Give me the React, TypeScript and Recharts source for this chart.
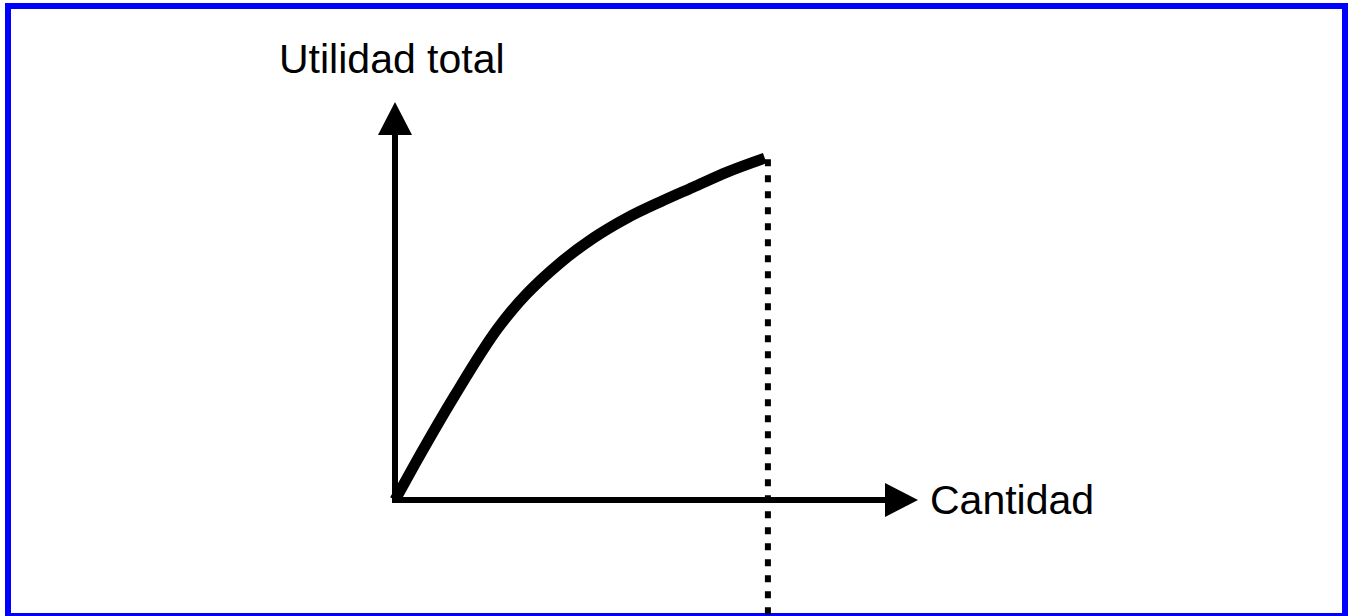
import { ComposedChart, Line, XAxis, YAxis, ReferenceLine, ReferenceDot } from 'recharts'

// quantity (x) and total utility (y), both on a 0..100 scale
const qty = [0, 3.8, 11.5, 19.7, 22.4, 25.2, 31.5, 37.9, 44.4, 50.7, 57.0, 63.5, 70.7]
const utility = [0, 9.0, 26.4, 43.2, 47.7, 51.8, 59.5, 65.8, 70.9, 74.9, 78.6, 82.4, 85.9]

const yTitle = 'Utilidad total'
const xTitle = 'Cantidad'
const cutoffQty = 71.3

const data = qty.map((q, i) => ({ q, u: utility[i] }))

const font = 'Liberation Sans, Arial, sans-serif'

const XArrow = (p: any) => (
    <g>
        <polygon points={`${p.cx - 33},${p.cy - 17} ${p.cx},${p.cy} ${p.cx - 33},${p.cy + 17}`} fill='#000' />
        <text x={p.cx + 12} y={p.cy + 14} fontSize={41} fontFamily={font} fill='#000'>{xTitle}</text>
    </g>
)

const YArrow = (p: any) => (
    <g>
        <polygon points={`${p.cx - 17},${p.cy + 33} ${p.cx},${p.cy} ${p.cx + 17},${p.cy + 33}`} fill='#000' />
        <text x={p.cx - 116} y={p.cy - 29} fontSize={41} fontFamily={font} fill='#000'>{yTitle}</text>
    </g>
)

const App = () => {
    return (
        <div style={{ position: 'absolute', left: 0, top: 0, width: 1354, height: 616, overflow: 'hidden', background: '#fff' }}>
            <div style={{ position: 'absolute', left: 5, top: 3, width: 1343, height: 616, border: '6px solid #0000ff', boxSizing: 'border-box' }} />
            <div style={{ position: 'absolute', left: 0, top: 0 }}>
                <ComposedChart width={1354} height={616} data={data}
                    margin={{ top: 102, right: 436, bottom: 116, left: 395 }}>
                    <XAxis type='number' dataKey='q' domain={[0, 100]} hide />
                    <YAxis type='number' domain={[0, 100]} hide />
                    <ReferenceLine segment={[{ x: cutoffQty, y: 85.6 }, { x: cutoffQty, y: -30 }]}
                        stroke='#000' strokeWidth={6} strokeDasharray='7 9' ifOverflow='visible' />
                    <ReferenceLine segment={[{ x: 0, y: 0 }, { x: 93.7, y: 0 }]} stroke='#000' strokeWidth={6} ifOverflow='visible' />
                    <ReferenceLine segment={[{ x: 0, y: -0.75 }, { x: 0, y: 91.7 }]} stroke='#000' strokeWidth={6} ifOverflow='visible' />
                    <Line dataKey='u' type='monotone' stroke='#000' strokeWidth={11} dot={false} isAnimationActive={false} />
                    <ReferenceDot x={100} y={0} r={0} shape={XArrow} ifOverflow='visible' />
                    <ReferenceDot x={0} y={100} r={0} shape={YArrow} ifOverflow='visible' />
                </ComposedChart>
            </div>
        </div>
    )
}

export default App
